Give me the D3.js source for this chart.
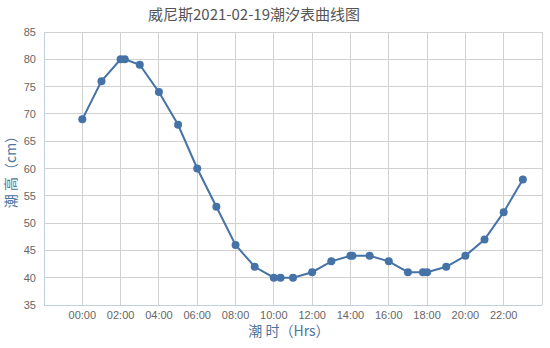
<!DOCTYPE html>
<html>
<head>
<meta charset="utf-8">
<script src="https://cdn.jsdelivr.net/npm/d3@7"></script>
<style>
  body { margin: 0; background: #fff; }
  svg { display: block; }
</style>
</head>
<body>
<div id="chart"></div>
<script>
// tide readings: hourly plus the extreme times
const times = ["00:00", "01:00", "02:00", "02:13", "03:00", "04:00", "05:00", "06:00", "07:00",
  "08:00", "09:00", "10:00", "10:21", "11:00", "12:00", "13:00", "14:00", "14:06", "15:00",
  "16:00", "17:00", "17:47", "18:00", "19:00", "20:00", "21:00", "22:00", "23:00"];
const heights = [69, 76, 80, 80, 79, 74, 68, 60, 53, 46, 42, 40, 40, 40, 41, 43, 44, 44, 44,
  43, 41, 41, 41, 42, 44, 47, 52, 58];
const xTickLabels = ["00:00", "02:00", "04:00", "06:00", "08:00", "10:00", "12:00", "14:00",
  "16:00", "18:00", "20:00", "22:00"];
const yTicks = [35, 40, 45, 50, 55, 60, 65, 70, 75, 80, 85];

const toHours = s => { const [h, m] = s.split(":").map(Number); return h + m / 60; };
const data = times.map((t, i) => ({ x: toHours(t), y: heights[i] }));

const width = 550, height = 348;
const margin = { top: 32, right: 8, bottom: 43, left: 44 };

const svg = d3.select("#chart").append("svg")
  .attr("width", width)
  .attr("height", height);

const x = d3.scaleLinear().domain([-2, 24]).range([margin.left, width - margin.right]);
const y = d3.scaleLinear().domain([35, 85]).range([height - margin.bottom, margin.top]);

// grid
const gridX = d3.range(-2, 25, 2);
svg.append("g").selectAll("line")
  .data(gridX)
  .enter().append("line")
  .attr("x1", d => x(d)).attr("x2", d => x(d))
  .attr("y1", y(85)).attr("y2", y(35))
  .attr("stroke", "#d0d0d0").attr("stroke-width", 1)
  .attr("shape-rendering", "crispEdges");
svg.append("g").selectAll("line")
  .data(yTicks)
  .enter().append("line")
  .attr("x1", x(-2)).attr("x2", x(24))
  .attr("y1", d => y(d)).attr("y2", d => y(d))
  .attr("stroke", "#d0d0d0").attr("stroke-width", 1)
  .attr("shape-rendering", "crispEdges");

// axis lines
svg.append("line")
  .attr("x1", x(-2)).attr("x2", x(-2)).attr("y1", y(85)).attr("y2", y(35))
  .attr("stroke", "#c0d0e0").attr("shape-rendering", "crispEdges");
svg.append("line")
  .attr("x1", x(-2)).attr("x2", x(24)).attr("y1", y(35)).attr("y2", y(35))
  .attr("stroke", "#c0d0e0").attr("shape-rendering", "crispEdges");

// y tick labels
svg.append("g").selectAll("text")
  .data(yTicks)
  .enter().append("text")
  .attr("x", margin.left - 8)
  .attr("y", d => y(d) + 4)
  .attr("text-anchor", "end")
  .attr("font-family", "'Liberation Sans', Arial, sans-serif")
  .attr("font-size", 11)
  .attr("fill", "#666")
  .text(d => d);

// x tick labels
svg.append("g").selectAll("text")
  .data(xTickLabels)
  .enter().append("text")
  .attr("x", d => x(toHours(d)))
  .attr("y", y(35) + 14)
  .attr("text-anchor", "middle")
  .attr("font-family", "'Liberation Sans', Arial, sans-serif")
  .attr("font-size", 11)
  .attr("fill", "#666")
  .text(d => d);

// line + markers
const line = d3.line()
  .x(d => x(d.x))
  .y(d => y(d.y));
svg.append("path")
  .datum(data)
  .attr("d", line)
  .attr("fill", "none")
  .attr("stroke", "#4572a7")
  .attr("stroke-width", 2);
svg.append("g").selectAll("circle")
  .data(data)
  .enter().append("circle")
  .attr("cx", d => x(d.x))
  .attr("cy", d => y(d.y))
  .attr("r", 4)
  .attr("fill", "#4572a7");

// titles
svg.append("text")
  .attr("x", 254).attr("y", 20)
  .attr("text-anchor", "middle")
  .attr("font-family", "'Noto Sans CJK SC', sans-serif")
  .attr("font-size", 15)
  .attr("fill", "#555")
  .text("威尼斯2021-02-19潮汐表曲线图");

svg.append("text")
  .attr("x", (x(-2) + x(24)) / 2 - 4).attr("y", 336)
  .attr("text-anchor", "middle")
  .attr("font-family", "'Noto Sans CJK SC', sans-serif")
  .attr("font-size", 14)
  .attr("fill", "#4d759e")
  .text("潮 时（Hrs）");

svg.append("text")
  .attr("transform", `translate(16,${(y(35) + y(85)) / 2}) rotate(-90)`)
  .attr("text-anchor", "middle")
  .attr("font-family", "'Noto Sans CJK SC', sans-serif")
  .attr("font-size", 14)
  .attr("fill", "#4d759e")
  .text("潮 高（cm）");
</script>
</body>
</html>
